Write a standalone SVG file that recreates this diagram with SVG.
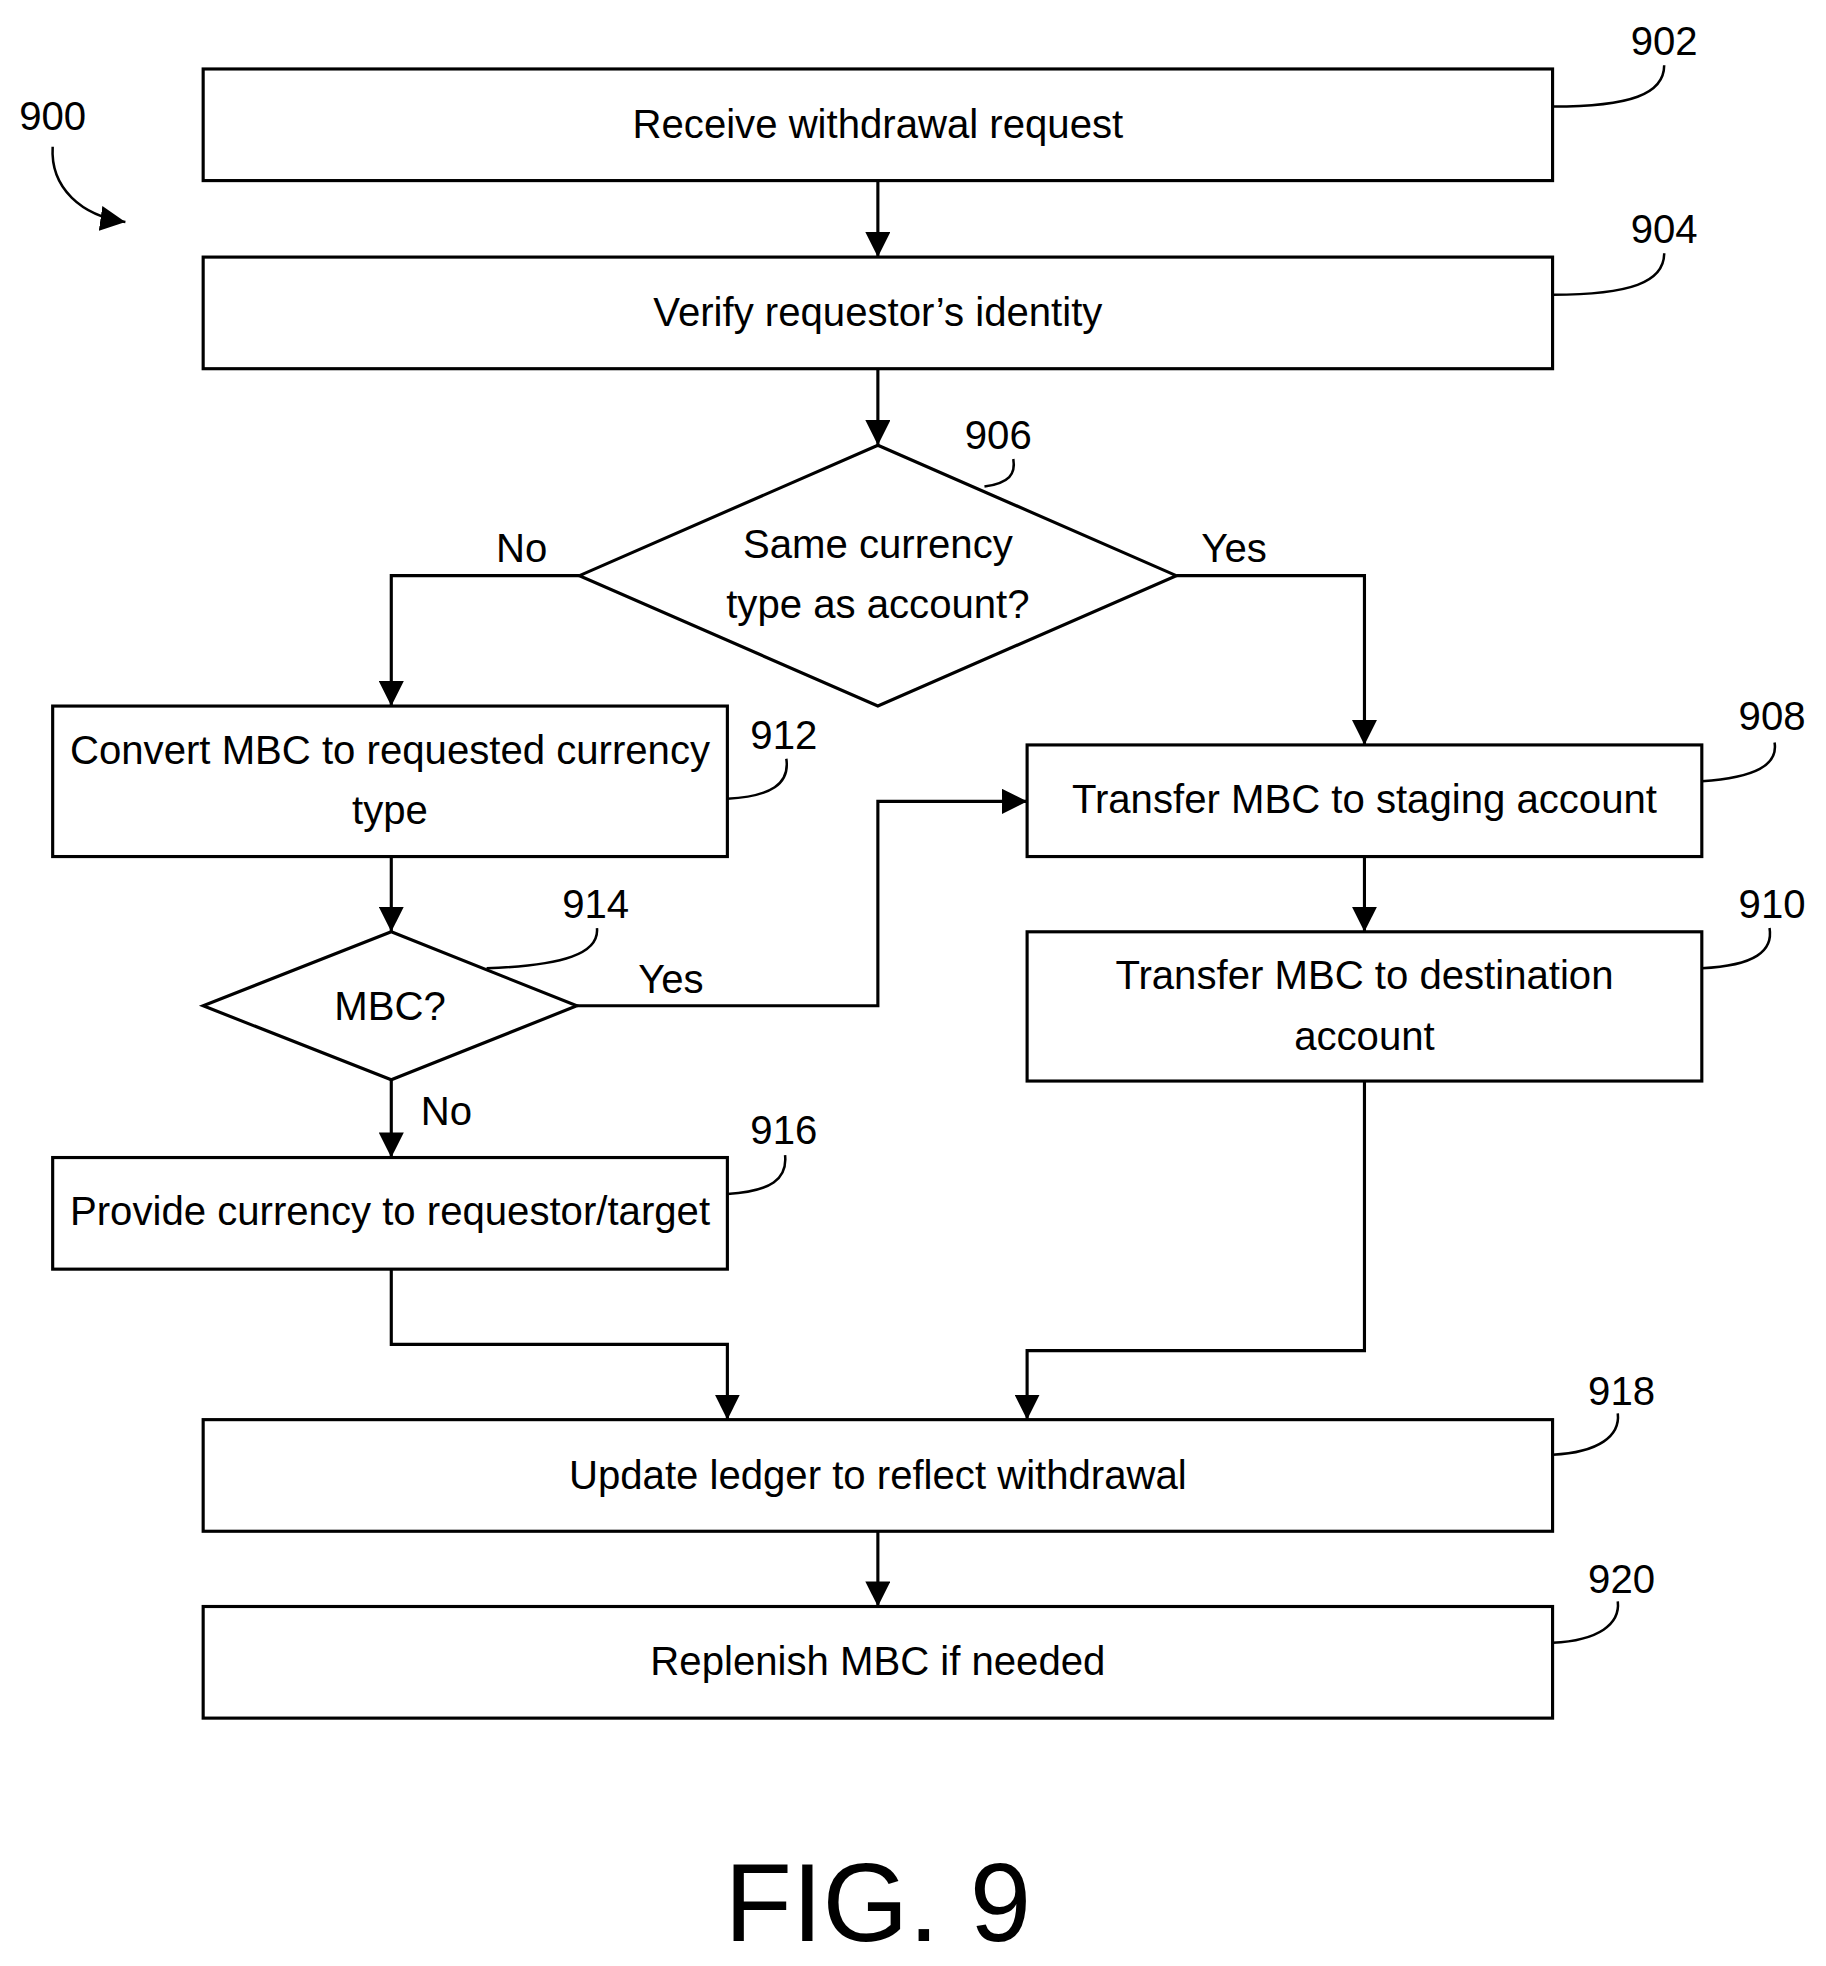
<svg xmlns="http://www.w3.org/2000/svg" width="1826" height="1966" viewBox="0 0 1826 1966">
<defs>
<marker id="ah2" viewBox="0 0 10 10" refX="10" refY="5" markerWidth="20" markerHeight="20" markerUnits="userSpaceOnUse" orient="auto"><path d="M0,0 L10,5 L0,10 z" fill="#000"/></marker>
<style>
.b{fill:#fff;stroke:#000;stroke-width:2.5}
.c{fill:none;stroke:#000;stroke-width:2.5;marker-end:url(#ah2)}
.l{fill:none;stroke:#000;stroke-width:2}
text{font-family:"Liberation Sans",Arial,sans-serif;font-size:32px;fill:#000}
.m{text-anchor:middle}
</style>
</defs>
<rect width="1826" height="1966" fill="#fff"/>
<g transform="scale(1.2541)">
<g id="connectors">
<path class="c" d="M700,144 V205"/>
<path class="c" d="M700,294 V355"/>
<path class="c" d="M462,459 H312 V563"/>
<path class="c" d="M938,459 H1088 V594"/>
<path class="c" d="M1088,683 V743"/>
<path class="c" d="M312,683 V743"/>
<path class="c" d="M460,802 H700 V639 H819"/>
<path class="c" d="M312,861 V923"/>
<path class="c" d="M312,1012 V1072 H580 V1132"/>
<path class="c" d="M1088,862 V1077 H819 V1132"/>
<path class="c" d="M700,1221 V1281"/>
<text x="416" y="448" class="m">No</text>
<text x="984" y="448" class="m">Yes</text>
<text x="535" y="792" class="m">Yes</text>
<text x="356" y="897" class="m">No</text>
</g>
<g id="n902"><rect class="b" x="162" y="55" width="1076" height="89"/><text x="700" y="110" class="m">Receive withdrawal request</text><path class="l" d="M1238,85 C1300,85 1327,75 1327,52"/><text x="1327" y="44" class="m">902</text></g>
<g id="n904"><rect class="b" x="162" y="205" width="1076" height="89"/><text x="700" y="260" class="m">Verify requestor’s identity</text><path class="l" d="M1238,235 C1300,235 1327,225 1327,202"/><text x="1327" y="194" class="m">904</text></g>
<g id="n906"><polygon class="b" points="700,355 938,459 700,563 462,459"/><text x="700" y="445" class="m">Same currency</text><text x="700" y="493" class="m">type as account?</text><path class="l" d="M785,388 C805,385 810,378 808,366"/><text x="796" y="358" class="m">906</text></g>
<g id="n912"><rect class="b" x="42" y="563" width="538" height="120"/><text x="311" y="609" class="m">Convert MBC to requested currency</text><text x="311" y="657" class="m">type</text><path class="l" d="M580,637 C615,635 630,625 627,605"/><text x="625" y="597" class="m">912</text></g>
<g id="n908"><rect class="b" x="819" y="594" width="538" height="89"/><text x="1088" y="648" class="m">Transfer MBC to staging account</text><path class="l" d="M1357,623 C1400,620 1418,610 1415,592"/><text x="1413" y="582" class="m">908</text></g>
<g id="n914"><polygon class="b" points="312,743 460,802 312,861 162,802"/><text x="311" y="813" class="m">MBC?</text><path class="l" d="M388,772 C450,770 478,760 476,740"/><text x="475" y="732" class="m">914</text></g>
<g id="n910"><rect class="b" x="819" y="743" width="538" height="119"/><text x="1088" y="789" class="m">Transfer MBC to destination</text><text x="1088" y="837" class="m">account</text><path class="l" d="M1357,772 C1400,770 1414,758 1411,740"/><text x="1413" y="732" class="m">910</text></g>
<g id="n916"><rect class="b" x="42" y="923" width="538" height="89"/><text x="311" y="977" class="m">Provide currency to requestor/target</text><path class="l" d="M580,952 C615,950 628,940 626,921"/><text x="625" y="912" class="m">916</text></g>
<g id="n918"><rect class="b" x="162" y="1132" width="1076" height="89"/><text x="700" y="1187" class="m">Update ledger to reflect withdrawal</text><path class="l" d="M1238,1160 C1275,1158 1292,1145 1290,1127"/><text x="1293" y="1120" class="m">918</text></g>
<g id="n920"><rect class="b" x="162" y="1281" width="1076" height="89"/><text x="700" y="1336" class="m">Replenish MBC if needed</text><path class="l" d="M1238,1310 C1275,1308 1292,1295 1290,1277"/><text x="1293" y="1270" class="m">920</text></g>
<g id="n900"><text x="42" y="104" class="m">900</text><path class="l" d="M42,117 C40,150 65,172 100,177" style="marker-end:url(#ah2)"/></g>
<text x="700" y="1548" class="m" style="font-size:88px">FIG. 9</text>
</g>
</svg>
